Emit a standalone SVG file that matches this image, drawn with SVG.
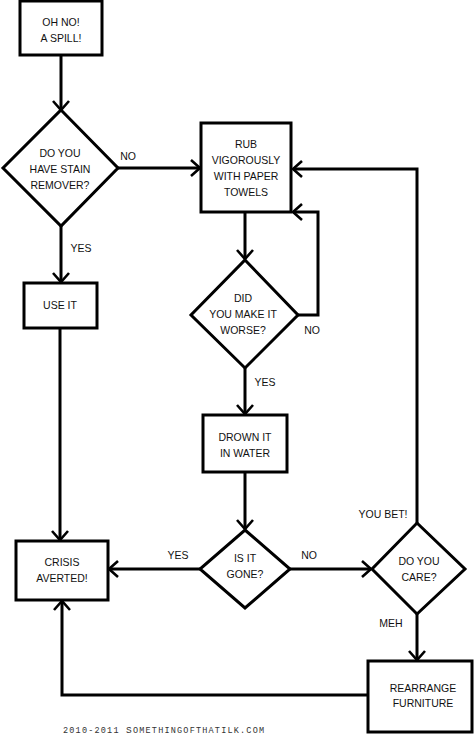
<svg xmlns="http://www.w3.org/2000/svg" width="474" height="740" viewBox="0 0 474 740">
<style>
.box{fill:#fff;stroke:#000;stroke-width:3}
.t{font-family:"Liberation Sans",Arial,sans-serif;font-size:10.5px;fill:#111;text-anchor:middle}
.lbl{font-family:"Liberation Sans",Arial,sans-serif;font-size:10.5px;fill:#111;text-anchor:middle}
.c{fill:none;stroke:#000;stroke-width:3;stroke-linejoin:miter}
.foot{font-family:"Liberation Mono",monospace;font-size:8.5px;fill:#333;letter-spacing:1.2px}
</style>
<defs>
<marker id="ah" markerUnits="userSpaceOnUse" markerWidth="24" markerHeight="24" viewBox="-12 -12 24 24" refX="0" refY="0" orient="auto">
<path d="M-9,-8 L0,0 L-9,8" fill="none" stroke="#000" stroke-width="2.6"/>
</marker>
</defs>
<rect width="474" height="740" fill="#fff"/>
<g id="connectors">
<path class="c" d="M61,56 V110" marker-end="url(#ah)"/>
<path class="c" d="M118,168 H200" marker-end="url(#ah)"/>
<path class="c" d="M61,226 V282" marker-end="url(#ah)"/>
<path class="c" d="M60,328 V540" marker-end="url(#ah)"/>
<path class="c" d="M245,213 V259" marker-end="url(#ah)"/>
<path class="c" d="M298,315 H318 V212 H293" marker-end="url(#ah)"/>
<path class="c" d="M245,367 V414" marker-end="url(#ah)"/>
<path class="c" d="M245,472 V529" marker-end="url(#ah)"/>
<path class="c" d="M200,569 H109" marker-end="url(#ah)"/>
<path class="c" d="M290,569 H371" marker-end="url(#ah)"/>
<path class="c" d="M417,523 V169 H293" marker-end="url(#ah)"/>
<path class="c" d="M417,613 V660" marker-end="url(#ah)"/>
<path class="c" d="M368,695 H62 V601" marker-end="url(#ah)"/>
<text class="lbl" x="128" y="160">NO</text>
<text class="lbl" x="81" y="252">YES</text>
<text class="lbl" x="312" y="334">NO</text>
<text class="lbl" x="265" y="386">YES</text>
<text class="lbl" x="178" y="559">YES</text>
<text class="lbl" x="309" y="559">NO</text>
<text class="lbl" x="383" y="518">YOU BET!</text>
<text class="lbl" x="391" y="627">MEH</text>
</g>
<g id="spill">
<rect class="box" x="20" y="1" width="82" height="54"/>
<text class="t" x="61" y="26">OH NO!</text>
<text class="t" x="61" y="42">A SPILL!</text>
</g>
<g id="stain-remover">
<polygon class="box" points="61,110 118,168 61,226 3,168"/>
<text class="t" x="60" y="157">DO YOU</text>
<text class="t" x="60" y="173">HAVE STAIN</text>
<text class="t" x="60" y="189">REMOVER?</text>
</g>
<g id="use-it">
<rect class="box" x="24" y="283" width="73" height="45"/>
<text class="t" x="60" y="309">USE IT</text>
</g>
<g id="rub">
<rect class="box" x="201" y="123" width="90" height="89"/>
<text class="t" x="246" y="148">RUB</text>
<text class="t" x="246" y="164">VIGOROUSLY</text>
<text class="t" x="246" y="180">WITH PAPER</text>
<text class="t" x="246" y="196">TOWELS</text>
</g>
<g id="worse">
<polygon class="box" points="245,260 298,315 245,368 191,315"/>
<text class="t" x="243" y="302">DID</text>
<text class="t" x="243" y="318">YOU MAKE IT</text>
<text class="t" x="243" y="334">WORSE?</text>
</g>
<g id="drown">
<rect class="box" x="203" y="415" width="84" height="57"/>
<text class="t" x="245" y="441">DROWN IT</text>
<text class="t" x="245" y="457">IN WATER</text>
</g>
<g id="gone">
<polygon class="box" points="245,530 290,569 245,608 200,569"/>
<text class="t" x="245" y="562">IS IT</text>
<text class="t" x="245" y="578">GONE?</text>
</g>
<g id="crisis">
<rect class="box" x="16" y="541" width="92" height="59"/>
<text class="t" x="62" y="566">CRISIS</text>
<text class="t" x="62" y="582">AVERTED!</text>
</g>
<g id="care">
<polygon class="box" points="417,523 465,569 417,614 372,569"/>
<text class="t" x="419" y="565">DO YOU</text>
<text class="t" x="419" y="581">CARE?</text>
</g>
<g id="rearrange">
<rect class="box" x="368" y="661" width="104" height="71"/>
<text class="t" x="423" y="692">REARRANGE</text>
<text class="t" x="423" y="707">FURNITURE</text>
</g>
<text class="foot" x="63" y="733">2010-2011 <tspan font-size="9.5px">S</tspan>OMETHINGOFTHATILK.COM</text>
</svg>
